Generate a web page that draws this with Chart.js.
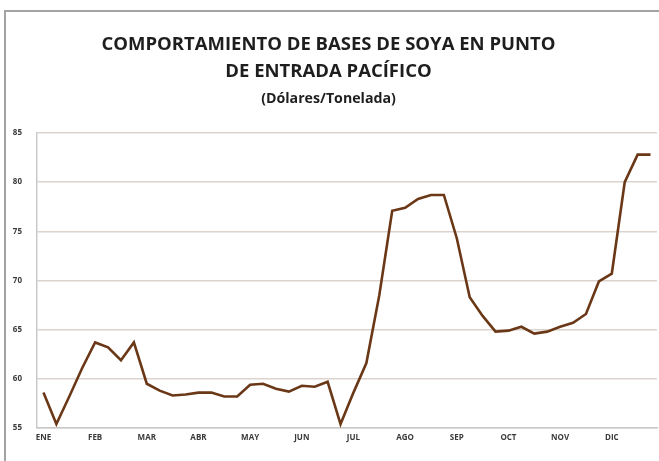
<!DOCTYPE html>
<html>
<head>
<meta charset="utf-8">
<script src="https://cdn.jsdelivr.net/npm/chart.js@4.4.1/dist/chart.umd.min.js"></script>
<style>
  html, body { margin: 0; padding: 0; background: #ffffff; }
  #wrap { width: 659px; height: 461px; position: relative; }
</style>
</head>
<body>
<div id="wrap"><canvas id="c" width="659" height="461"></canvas></div>
<script>
// Month tick labels (one label every 4 weekly points)
const months = ['ENE','FEB','MAR','ABR','MAY','JUN','JUL','AGO','SEP','OCT','NOV','DIC'];
const weeksPerMonth = 4;

// Weekly basis values (USD/ton)
const basesSoya = [
  58.6, 55.4, 58.2, 61.1,   // ENE
  63.7, 63.2, 61.9, 63.7,   // FEB
  59.5, 58.8, 58.3, 58.4,   // MAR
  58.6, 58.6, 58.2, 58.2,   // ABR
  59.4, 59.5, 59.0, 58.7,   // MAY
  59.3, 59.2, 59.7, 55.4,   // JUN
  58.6, 61.6, 68.5, 77.1,   // JUL
  77.4, 78.3, 78.7, 78.7,   // AGO
  74.3, 68.3, 66.4, 64.8,   // SEP
  64.9, 65.3, 64.6, 64.8,   // OCT
  65.3, 65.7, 66.6, 69.9,   // NOV
  70.7, 80.0, 82.8, 82.8    // DIC
];

const yTicks = [55, 60, 65, 70, 75, 80, 85];

const labels = basesSoya.map((v, i) => (i % weeksPerMonth === 0 ? months[i / weeksPerMonth] : ''));

const framePlugin = {
  id: 'frame',
  beforeDraw(chart) {
    const ctx = chart.ctx;
    ctx.save();
    ctx.fillStyle = '#ffffff';
    ctx.fillRect(0, 0, chart.width, chart.height);
    ctx.strokeStyle = '#a3a3a3';
    ctx.lineWidth = 2;
    ctx.beginPath();
    ctx.moveTo(5, chart.height);
    ctx.lineTo(5, 11);
    ctx.lineTo(chart.width, 11);
    ctx.stroke();
    ctx.restore();
  }
};

new Chart(document.getElementById('c'), {
  type: 'line',
  data: {
    labels: labels,
    datasets: [{
      data: basesSoya,
      borderColor: '#6b3817',
      borderWidth: 2.6,
      pointRadius: 0,
      tension: 0,
      fill: false
    }]
  },
  options: {
    responsive: false,
    animation: false,
    layout: { padding: { left: 0, right: 2, top: 0, bottom: 0 } },
    plugins: {
      legend: { display: false },
      tooltip: { enabled: false },
      title: {
        display: true,
        text: ['COMPORTAMIENTO DE BASES DE SOYA EN PUNTO', 'DE ENTRADA PACÍFICO'],
        color: '#1e1e1e',
        font: { family: 'Open Sans', size: 18.5, weight: 'bold', lineHeight: 27 / 18.5 },
        padding: { top: 31.5, bottom: 5 }
      },
      subtitle: {
        display: true,
        text: '(Dólares/Tonelada)',
        color: '#1e1e1e',
        font: { family: 'Open Sans', size: 14.2, weight: 'bold', lineHeight: 1.2 },
        padding: { top: 0, bottom: 25.5 }
      }
    },
    scales: {
      x: {
        offset: true,
        grid: { display: false, drawTicks: false },
        border: { display: true, color: '#c9c9c9', width: 1.5 },
        ticks: {
          autoSkip: false,
          maxRotation: 0,
          minRotation: 0,
          padding: 5,
          color: '#3a3a3a',
          font: { family: 'Open Sans', size: 8, weight: 'bold' }
        },
        afterFit(scale) { scale.height = 33; }
      },
      y: {
        min: 55,
        max: 85,
        afterBuildTicks(scale) { scale.ticks = yTicks.map(v => ({ value: v })); },
        grid: { color: '#dcd3cf', lineWidth: 1.5, drawTicks: false },
        border: { display: true, color: '#c9c9c9', width: 1.5 },
        ticks: {
          padding: 15,
          color: '#3a3a3a',
          font: { family: 'Open Sans', size: 8, weight: 'bold' }
        },
        afterFit(scale) { scale.width = 37; }
      }
    }
  },
  plugins: [framePlugin]
});
</script>
</body>
</html>
